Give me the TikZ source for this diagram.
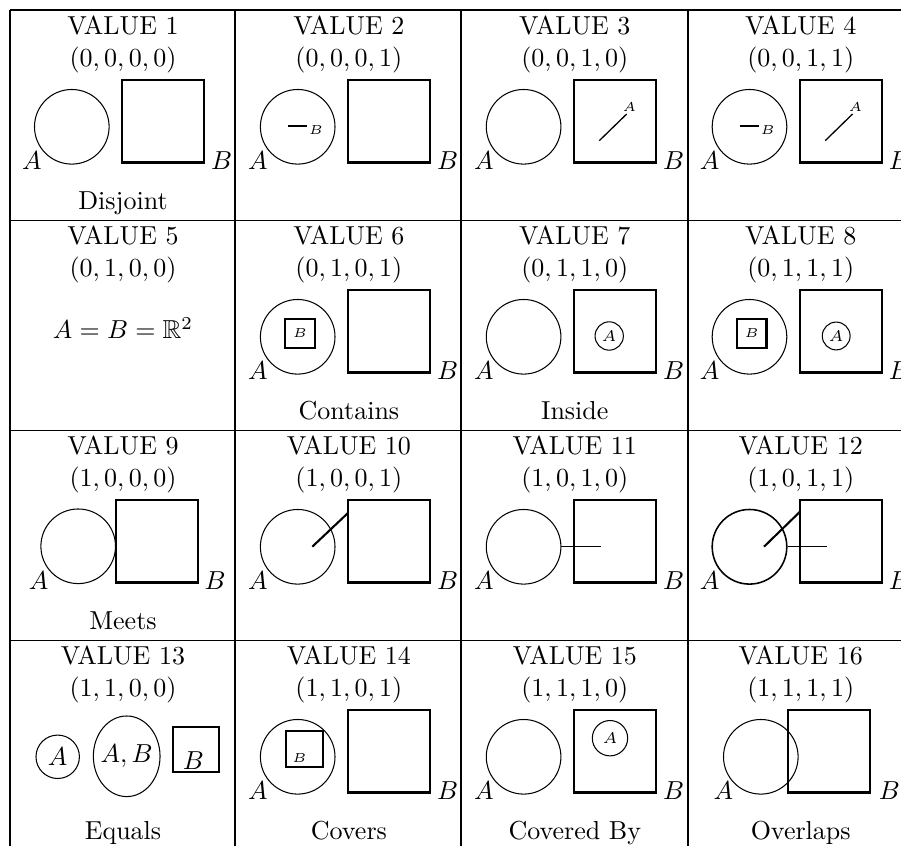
\documentclass[tikz,border=0pt]{standalone}
\usepackage{amssymb}
\usetikzlibrary{shapes.geometric}
\tikzset{
  gridline/.style={line width=0.4pt},
  regA/.style={circle, draw, line width=0.4pt, minimum size=28.7pt, inner sep=0pt},
  regB/.style={rectangle, draw, line width=0.8pt, minimum size=31.6pt, inner sep=0pt},
  lab/.style={anchor=base west, inner sep=0pt},
  ttl/.style={anchor=base, inner sep=0pt},
  tinylab/.style={font=\tiny, inner sep=0pt},
  smallcirc/.style={circle, draw, line width=0.4pt, inner sep=0pt, font=\fontsize{6}{7}\selectfont},
  smallsq/.style={rectangle, draw, line width=0.8pt, inner sep=0pt, font=\tiny},
  thickseg/.style={line width=0.8pt},
  thinseg/.style={line width=0.4pt},
  midseg/.style={line width=0.5pt},
}
\newcommand\myhdr[3]{%
  \node[ttl] (#1t) at (113,24.3) {VALUE #2};
  \node[ttl] (#1v) at (113,56.7) {$(#3)$};
}
\newcommand\mycap[2]{\node[ttl] (#1c) at (113,199.5) {#2};}
\newcommand\mystdA[1]{%
  \node[regA] (#1A) at (61.8,116.8) {};
  \node[lab] (#1a) at (11.7,160) {$A$};
}
\newcommand\mystdB[1]{%
  \node[regB] (#1B) at (153.2,111.4) {};
  \node[lab] (#1b) at (200.7,160) {$B$};
}
\begin{document}
\begin{tikzpicture}[x=0.3846pt, y=-0.3846pt]
\clip (0,0) rectangle (901,846);
% grid
\coordinate (h0l) at (10,10);     \coordinate (h0r) at (901,10);
\coordinate (h1l) at (10,220.8);  \coordinate (h1r) at (901,220.8);
\coordinate (h2l) at (10,430.8);  \coordinate (h2r) at (901,430.8);
\coordinate (h3l) at (10,640.8);  \coordinate (h3r) at (901,640.8);
\coordinate (v0t) at (10,10);     \coordinate (v0b) at (10,846);
\coordinate (v1t) at (235,10);    \coordinate (v1b) at (235,846);
\coordinate (v2t) at (461,10);    \coordinate (v2b) at (461,846);
\coordinate (v3t) at (688,10);    \coordinate (v3b) at (688,846);
\draw[gridline] (h0l) -- (h0r) (h1l) -- (h1r) (h2l) -- (h2r) (h3l) -- (h3r);
\draw[gridline] (v0t) -- (v0b) (v1t) -- (v1b) (v2t) -- (v2b) (v3t) -- (v3b);

% ---------- row 1 ----------
\begin{scope}[shift={(10,10)}]
  \myhdr{c1}{1}{0,0,0,0}
  \mystdA{c1}\mystdB{c1}
  \mycap{c1}{Disjoint}
\end{scope}
\begin{scope}[shift={(235.9,10)}]
  \myhdr{c2}{2}{0,0,0,1}
  \mystdA{c2}\mystdB{c2}
  \coordinate (c2p) at (52,116); \coordinate (c2q) at (71.4,116);
  \draw[thickseg] (c2p) -- (c2q);
  \node[tinylab, anchor=base west] (c2l) at (72.5,125) {$B$};
\end{scope}
\begin{scope}[shift={(461.8,10)}]
  \myhdr{c3}{3}{0,0,1,0}
  \mystdA{c3}\mystdB{c3}
  \coordinate (c3p) at (137.5,130.7); \coordinate (c3q) at (164.9,104);
  \draw[midseg] (c3p) -- (c3q);
  \node[tinylab, anchor=base west] (c3l) at (160.3,101.7) {$A$};
\end{scope}
\begin{scope}[shift={(687.7,10)}]
  \myhdr{c4}{4}{0,0,1,1}
  \mystdA{c4}\mystdB{c4}
  \coordinate (c4p) at (52,116); \coordinate (c4q) at (71.4,116);
  \draw[thickseg] (c4p) -- (c4q);
  \node[tinylab, anchor=base west] (c4l) at (72.5,125) {$B$};
  \coordinate (c4r) at (137.5,130.7); \coordinate (c4s) at (164.9,104);
  \draw[midseg] (c4r) -- (c4s);
  \node[tinylab, anchor=base west] (c4m) at (160.3,101.7) {$A$};
\end{scope}

% ---------- row 2 ----------
\begin{scope}[shift={(10,220)}]
  \myhdr{c5}{5}{0,1,0,0}
  \node[ttl] (c5e) at (113,119) {$A=B=\mathbb{R}^2$};
\end{scope}
\begin{scope}[shift={(235.9,220)}]
  \myhdr{c6}{6}{0,1,0,1}
  \mystdA{c6}\mystdB{c6}
  \node[smallsq, minimum width=11.4pt, minimum height=11pt] (c6s) at (64,113.5) {$B$};
  \mycap{c6}{Contains}
\end{scope}
\begin{scope}[shift={(461.8,220)}]
  \myhdr{c7}{7}{0,1,1,0}
  \mystdA{c7}\mystdB{c7}
  \node[smallcirc, minimum size=10.9pt] (c7s) at (147.4,116) {$A$};
  \mycap{c7}{Inside}
\end{scope}
\begin{scope}[shift={(687.7,220)}]
  \myhdr{c8}{8}{0,1,1,1}
  \mystdA{c8}\mystdB{c8}
  \node[smallsq, minimum width=11.4pt, minimum height=11pt] (c8s) at (64,113.5) {$B$};
  \node[smallcirc, minimum size=10.7pt] (c8t) at (148.5,116) {$A$};
\end{scope}

% ---------- row 3 ----------
\begin{scope}[shift={(10,430)}]
  \myhdr{c9}{9}{1,0,0,0}
  \node[regA] (c9A) at (68.2,116.3) {};
  \node[lab] (c9a) at (18.3,160) {$A$};
  \node[regB] (c9B) at (146.7,111.4) {};
  \node[lab] (c9b) at (194,160) {$B$};
  \mycap{c9}{Meets}
\end{scope}
\begin{scope}[shift={(235.9,430)}]
  \myhdr{c10}{10}{1,0,0,1}
  \mystdA{c10}\mystdB{c10}
  \coordinate (c10p) at (76.4,116.7); \coordinate (c10q) at (112.4,82.7);
  \draw[thickseg] (c10p) -- (c10q);
\end{scope}
\begin{scope}[shift={(461.8,430)}]
  \myhdr{c11}{11}{1,0,1,0}
  \mystdA{c11}\mystdB{c11}
  \coordinate (c11q) at (139,116.8);
  \draw[thinseg] (c11A.east) -- (c11q);
\end{scope}
\begin{scope}[shift={(687.7,430)}]
  \myhdr{c12}{12}{1,0,1,1}
  \node[regA, line width=0.6pt] (c12A) at (61.8,116.8) {};
  \node[lab] (c12a) at (11.7,160) {$A$};
  \mystdB{c12}
  \coordinate (c12p) at (76.3,116.7); \coordinate (c12q) at (112.3,81.7);
  \draw[thickseg] (c12p) -- (c12q);
  \coordinate (c12r) at (139,116.8);
  \draw[thinseg] (c12A.east) -- (c12r);
\end{scope}

% ---------- row 4 ----------
\begin{scope}[shift={(10,640)}]
  \myhdr{c13}{13}{1,1,0,0}
  \node[circle, draw, line width=0.4pt, inner sep=0pt, minimum size=16.7pt] (c13A) at (47.7,116.8) {$A$};
  \node[ellipse, draw, line width=0.4pt, inner sep=0pt, minimum width=25.65pt, minimum height=31pt] (c13E) at (116.7,116.3) {};
  \node[inner sep=0pt] (c13e) at (c13E.center) {$A,B$};
  \node[rectangle, draw, line width=0.8pt, inner sep=0pt, minimum width=17.7pt, minimum height=17.3pt] (c13B) at (186.3,109.2) {};
  \node[ttl] (c13b) at (183.3,129.5) {$B$};
  \mycap{c13}{Equals}
\end{scope}
\begin{scope}[shift={(235.9,640)}]
  \myhdr{c14}{14}{1,1,0,1}
  \mystdA{c14}\mystdB{c14}
  \node[smallsq, minimum width=14.2pt, minimum height=13.85pt] (c14s) at (68.3,108.7) {};
  \node[tinylab, anchor=base west] (c14l) at (56,122.3) {$B$};
  \mycap{c14}{Covers}
\end{scope}
\begin{scope}[shift={(461.8,640)}]
  \myhdr{c15}{15}{1,1,1,0}
  \mystdA{c15}\mystdB{c15}
  \node[smallcirc, minimum size=13.6pt] (c15s) at (148.2,98.2) {$A$};
  \mycap{c15}{Covered By}
\end{scope}
\begin{scope}[shift={(687.7,640)}]
  \myhdr{c16}{16}{1,1,1,1}
  \node[regA] (c16A) at (73.1,116.8) {};
  \node[lab] (c16a) at (25.3,160) {$A$};
  \node[regB] (c16B) at (141.2,111.4) {};
  \node[lab] (c16b) at (190.6,160) {$B$};
  \mycap{c16}{Overlaps}
\end{scope}
\end{tikzpicture}
\end{document}
